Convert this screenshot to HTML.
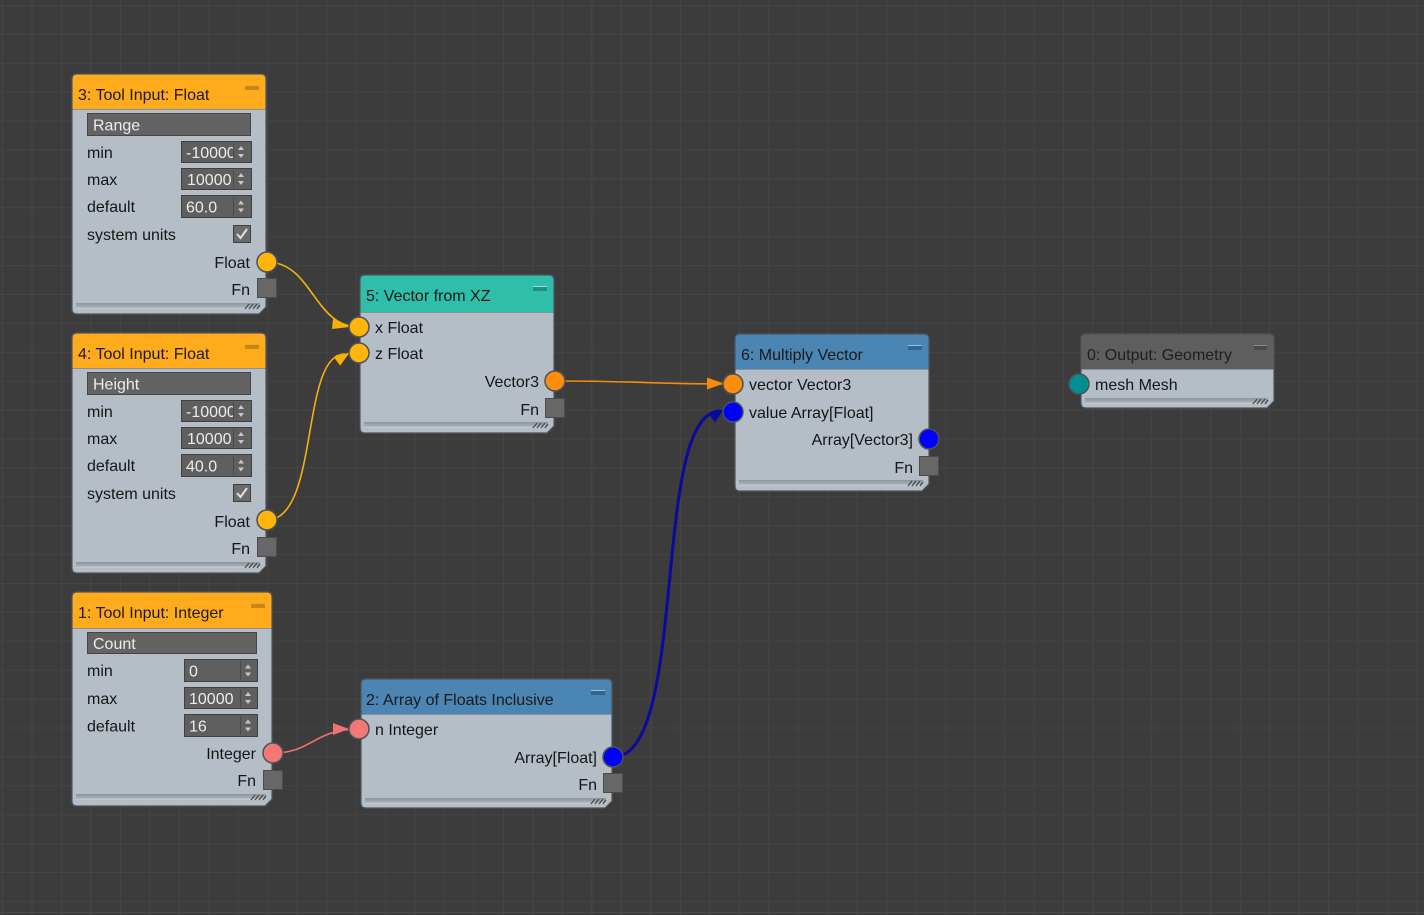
<!DOCTYPE html>
<html><head><meta charset="utf-8">
<style>
html,body{margin:0;padding:0;background:#3c3c3c;}
svg{display:block;}
text{font-family:"Liberation Sans",sans-serif;font-size:16px;fill:#151515;}
.fv{fill:#ececec;}
.t{fill:#1a1a1a;}
</style></head>
<body>
<svg width="1424" height="915" viewBox="0 0 1424 915" xmlns="http://www.w3.org/2000/svg">
<defs>
<pattern id="grid" x="2" y="5" width="29.47" height="28.9" patternUnits="userSpaceOnUse">
<path d="M0.5 0 V28.9 M0 0.5 H29.47" stroke="#454545" stroke-width="1" fill="none"/>
</pattern>
<linearGradient id="bar" x1="0" y1="0" x2="0" y2="1">
<stop offset="0" stop-color="#8c949c"/><stop offset="0.6" stop-color="#a3abb3"/><stop offset="1" stop-color="#c9d0d7"/>
</linearGradient>
</defs>
<rect width="1424" height="915" fill="#3c3c3c"/>
<rect width="1424" height="915" fill="url(#grid)"/>
<line x1="0" y1="912.5" x2="1424" y2="912.5" stroke="#4a4a4a"/>

<!-- connectors -->
<g fill="none">
<path d="M267 262 C312 262 314 327 359 327" stroke="#f5b10a" stroke-width="1.6"/>
<path d="M267 520 C320 520 300 353 345 354" stroke="#f5b10a" stroke-width="1.6"/>
<path d="M555 381 C640 381 650 384 733 384" stroke="#f58a0b" stroke-width="1.6"/>
<path d="M613 757 C690 757 650 412 720 411" stroke="#0a0a9c" stroke-width="3"/>
<path d="M273 753 C312 753 314 729 359 729" stroke="#f07272" stroke-width="1.6"/>
</g>
<polygon points="350,327 333,318.5 332,329" fill="#f5b10a"/>
<polygon points="350,352 340.2,365.6 334.2,357.6" fill="#f5b10a"/>
<polygon points="724,383.5 707,377.5 707,389.5" fill="#f58a0b"/>
<polygon points="724,409 715,422.5 708.5,413.5" fill="#0a0a9c"/>
<polygon points="349,729 333,723 333,735" fill="#f07272"/>

<!-- NODE 3 -->
<g>
<path d="M77,74 H261 Q266,74 266,79 V307 L259,314 H77 Q72,314 72,309 V79 Q72,74 77,74 Z" fill="#b5bec7"/>
<path d="M77,74 H261 Q266,74 266,79 V109 H72 V79 Q72,74 77,74 Z" fill="#ffab1c"/>
<line x1="72" y1="109.5" x2="266" y2="109.5" stroke="#8a9299"/>
<rect x="76" y="303" width="184" height="6" fill="url(#bar)"/>
<g stroke="#4a4a4a" stroke-width="1.3"><line x1="245" y1="309" x2="249" y2="304"/><line x1="249" y1="309" x2="253" y2="304"/><line x1="253" y1="309" x2="257" y2="304"/><line x1="257" y1="309" x2="260" y2="305"/></g>
<path d="M77,74 H261 Q266,74 266,79 V307 L259,314 H77 Q72,314 72,309 V79 Q72,74 77,74 Z" fill="none" stroke="#4e565e" stroke-width="1.2"/>
<rect x="245" y="85" width="14" height="5" fill="#c98718"/><rect x="245" y="85" width="14" height="1" fill="#e8a53a"/>
<text class="t" x="78" y="100">3: Tool Input: Float</text>
<rect x="87.5" y="113.5" width="163" height="22" fill="#636363" stroke="#454545"/>
<text class="fv" x="93" y="130.5">Range</text>
<text x="87" y="158">min</text>
<rect x="181.5" y="141.5" width="70" height="21" fill="#5f5f5f" stroke="#404040"/>
<line x1="233.5" y1="143" x2="233.5" y2="161" stroke="#4a4a4a"/>
<polygon points="238,150 244,150 241,146" fill="#c8c8c8"/><polygon points="238,154 244,154 241,158" fill="#c8c8c8"/>
<svg x="183" y="142" width="50" height="20"><text class="fv" x="3" y="16">-10000</text></svg>
<text x="87" y="185">max</text>
<rect x="181.5" y="168.5" width="70" height="21" fill="#5f5f5f" stroke="#404040"/>
<line x1="233.5" y1="170" x2="233.5" y2="188" stroke="#4a4a4a"/>
<polygon points="238,177 244,177 241,173" fill="#c8c8c8"/><polygon points="238,181 244,181 241,185" fill="#c8c8c8"/>
<svg x="183" y="169" width="50" height="20"><text class="fv" x="4" y="16">10000.</text></svg>
<text x="87" y="212">default</text>
<rect x="181.5" y="195.5" width="70" height="22" fill="#5f5f5f" stroke="#404040"/>
<line x1="233.5" y1="197" x2="233.5" y2="216" stroke="#4a4a4a"/>
<polygon points="238,204.5 244,204.5 241,200.5" fill="#c8c8c8"/><polygon points="238,208.5 244,208.5 241,212.5" fill="#c8c8c8"/>
<svg x="183" y="196" width="50" height="21"><text class="fv" x="3" y="16.5">60.0</text></svg>
<text x="87" y="240">system units</text>
<rect x="233.5" y="225.5" width="17" height="17" fill="#6b6b6b" stroke="#3f3f3f"/>
<path d="M237,234 L240.5,238 L247,229" stroke="#e0e0e0" stroke-width="2" fill="none"/>
<text x="250" y="268" text-anchor="end">Float</text>
<circle cx="267" cy="262" r="10" fill="#ffb50c" stroke="#4b5259" stroke-width="1.5"/>
<text x="250" y="295" text-anchor="end">Fn</text>
<rect x="257.5" y="278.5" width="19" height="19" fill="#676767" stroke="#4c4c4c"/>
</g>

<!-- NODE 4 -->
<g>
<path d="M77,333 H261 Q266,333 266,338 V566 L259,573 H77 Q72,573 72,568 V338 Q72,333 77,333 Z" fill="#b5bec7"/>
<path d="M77,333 H261 Q266,333 266,338 V368 H72 V338 Q72,333 77,333 Z" fill="#ffab1c"/>
<line x1="72" y1="368.5" x2="266" y2="368.5" stroke="#8a9299"/>
<rect x="76" y="562" width="184" height="6" fill="url(#bar)"/>
<g stroke="#4a4a4a" stroke-width="1.3"><line x1="245" y1="568" x2="249" y2="563"/><line x1="249" y1="568" x2="253" y2="563"/><line x1="253" y1="568" x2="257" y2="563"/><line x1="257" y1="568" x2="260" y2="564"/></g>
<path d="M77,333 H261 Q266,333 266,338 V566 L259,573 H77 Q72,573 72,568 V338 Q72,333 77,333 Z" fill="none" stroke="#4e565e" stroke-width="1.2"/>
<rect x="245" y="344" width="14" height="5" fill="#c98718"/><rect x="245" y="344" width="14" height="1" fill="#e8a53a"/>
<text class="t" x="78" y="359">4: Tool Input: Float</text>
<rect x="87.5" y="372.5" width="163" height="22" fill="#636363" stroke="#454545"/>
<text class="fv" x="93" y="389.5">Height</text>
<text x="87" y="417">min</text>
<rect x="181.5" y="400.5" width="70" height="21" fill="#5f5f5f" stroke="#404040"/>
<line x1="233.5" y1="402" x2="233.5" y2="420" stroke="#4a4a4a"/>
<polygon points="238,409 244,409 241,405" fill="#c8c8c8"/><polygon points="238,413 244,413 241,417" fill="#c8c8c8"/>
<svg x="183" y="401" width="50" height="20"><text class="fv" x="3" y="16">-10000</text></svg>
<text x="87" y="444">max</text>
<rect x="181.5" y="427.5" width="70" height="21" fill="#5f5f5f" stroke="#404040"/>
<line x1="233.5" y1="429" x2="233.5" y2="447" stroke="#4a4a4a"/>
<polygon points="238,436 244,436 241,432" fill="#c8c8c8"/><polygon points="238,440 244,440 241,444" fill="#c8c8c8"/>
<svg x="183" y="428" width="50" height="20"><text class="fv" x="4" y="16">10000.</text></svg>
<text x="87" y="471">default</text>
<rect x="181.5" y="454.5" width="70" height="22" fill="#5f5f5f" stroke="#404040"/>
<line x1="233.5" y1="456" x2="233.5" y2="475" stroke="#4a4a4a"/>
<polygon points="238,463.5 244,463.5 241,459.5" fill="#c8c8c8"/><polygon points="238,467.5 244,467.5 241,471.5" fill="#c8c8c8"/>
<svg x="183" y="455" width="50" height="21"><text class="fv" x="3" y="16.5">40.0</text></svg>
<text x="87" y="499">system units</text>
<rect x="233.5" y="484.5" width="17" height="17" fill="#6b6b6b" stroke="#3f3f3f"/>
<path d="M237,493 L240.5,497 L247,488" stroke="#e0e0e0" stroke-width="2" fill="none"/>
<text x="250" y="527" text-anchor="end">Float</text>
<circle cx="267" cy="520" r="10" fill="#ffb50c" stroke="#4b5259" stroke-width="1.5"/>
<text x="250" y="554" text-anchor="end">Fn</text>
<rect x="257.5" y="537.5" width="19" height="19" fill="#676767" stroke="#4c4c4c"/>
</g>

<!-- NODE 1 -->
<g>
<path d="M77,592 H267 Q272,592 272,597 V799 L265,806 H77 Q72,806 72,801 V597 Q72,592 77,592 Z" fill="#b5bec7"/>
<path d="M77,592 H267 Q272,592 272,597 V628 H72 V597 Q72,592 77,592 Z" fill="#ffab1c"/>
<line x1="72" y1="628.5" x2="272" y2="628.5" stroke="#8a9299"/>
<rect x="76" y="794" width="190" height="6" fill="url(#bar)"/>
<g stroke="#4a4a4a" stroke-width="1.3"><line x1="251" y1="800" x2="255" y2="795"/><line x1="255" y1="800" x2="259" y2="795"/><line x1="259" y1="800" x2="263" y2="795"/><line x1="263" y1="800" x2="266" y2="796"/></g>
<path d="M77,592 H267 Q272,592 272,597 V799 L265,806 H77 Q72,806 72,801 V597 Q72,592 77,592 Z" fill="none" stroke="#4e565e" stroke-width="1.2"/>
<rect x="251" y="603" width="14" height="5" fill="#c98718"/><rect x="251" y="603" width="14" height="1" fill="#e8a53a"/>
<text class="t" x="78" y="618">1: Tool Input: Integer</text>
<rect x="87.5" y="632.5" width="169" height="21" fill="#636363" stroke="#454545"/>
<text class="fv" x="93" y="649">Count</text>
<text x="87" y="676">min</text>
<rect x="184.5" y="659.5" width="73" height="22" fill="#5f5f5f" stroke="#404040"/>
<line x1="240.5" y1="661" x2="240.5" y2="680" stroke="#4a4a4a"/>
<polygon points="245,668.5 251,668.5 248,664.5" fill="#c8c8c8"/><polygon points="245,672.5 251,672.5 248,676.5" fill="#c8c8c8"/>
<text class="fv" x="189" y="676.5">0</text>
<text x="87" y="704">max</text>
<rect x="184.5" y="687.5" width="73" height="21" fill="#5f5f5f" stroke="#404040"/>
<line x1="240.5" y1="689" x2="240.5" y2="707" stroke="#4a4a4a"/>
<polygon points="245,696 251,696 248,692" fill="#c8c8c8"/><polygon points="245,700 251,700 248,704" fill="#c8c8c8"/>
<svg x="186" y="688" width="54" height="20"><text class="fv" x="3" y="16">10000</text></svg>
<text x="87" y="731.5">default</text>
<rect x="184.5" y="714.5" width="73" height="22" fill="#5f5f5f" stroke="#404040"/>
<line x1="240.5" y1="716" x2="240.5" y2="735" stroke="#4a4a4a"/>
<polygon points="245,723.5 251,723.5 248,719.5" fill="#c8c8c8"/><polygon points="245,727.5 251,727.5 248,731.5" fill="#c8c8c8"/>
<text class="fv" x="189" y="731.5">16</text>
<text x="256" y="759" text-anchor="end">Integer</text>
<circle cx="273" cy="753" r="10" fill="#f47777" stroke="#4b5259" stroke-width="1.5"/>
<text x="256" y="786" text-anchor="end">Fn</text>
<rect x="263.5" y="770.5" width="19" height="19" fill="#676767" stroke="#4c4c4c"/>
</g>

<!-- NODE 5 -->
<g>
<path d="M365,275 H549 Q554,275 554,280 V426 L547,433 H365 Q360,433 360,428 V280 Q360,275 365,275 Z" fill="#b5bec7"/>
<path d="M365,275 H549 Q554,275 554,280 V312 H360 V280 Q360,275 365,275 Z" fill="#2fbea9"/>
<line x1="360" y1="312.5" x2="554" y2="312.5" stroke="#8a9299"/>
<rect x="364" y="422" width="184" height="6" fill="url(#bar)"/>
<g stroke="#4a4a4a" stroke-width="1.3"><line x1="533" y1="428" x2="537" y2="423"/><line x1="537" y1="428" x2="541" y2="423"/><line x1="541" y1="428" x2="545" y2="423"/><line x1="545" y1="428" x2="548" y2="424"/></g>
<path d="M365,275 H549 Q554,275 554,280 V426 L547,433 H365 Q360,433 360,428 V280 Q360,275 365,275 Z" fill="none" stroke="#4e565e" stroke-width="1.2"/>
<rect x="533" y="286" width="14" height="5" fill="#1f8f80"/><rect x="533" y="286" width="14" height="1" fill="#8fe8dc"/>
<text class="t" x="366" y="301">5: Vector from XZ</text>
<text x="375" y="333">x Float</text>
<circle cx="359" cy="327" r="10" fill="#ffb50c" stroke="#4b5259" stroke-width="1.5"/>
<text x="375" y="359">z Float</text>
<circle cx="359" cy="353" r="10" fill="#ffb50c" stroke="#4b5259" stroke-width="1.5"/>
<text x="539" y="387" text-anchor="end">Vector3</text>
<circle cx="555" cy="381" r="10" fill="#ff8c0a" stroke="#4b5259" stroke-width="1.5"/>
<text x="539" y="415" text-anchor="end">Fn</text>
<rect x="545.5" y="398.5" width="19" height="19" fill="#676767" stroke="#4c4c4c"/>
</g>

<!-- NODE 6 -->
<g>
<path d="M740,334 H924 Q929,334 929,339 V484 L922,491 H740 Q735,491 735,486 V339 Q735,334 740,334 Z" fill="#b5bec7"/>
<path d="M740,334 H924 Q929,334 929,339 V369 H735 V339 Q735,334 740,334 Z" fill="#4b85b3"/>
<line x1="735" y1="369.5" x2="929" y2="369.5" stroke="#8a9299"/>
<rect x="739" y="480" width="184" height="6" fill="url(#bar)"/>
<g stroke="#4a4a4a" stroke-width="1.3"><line x1="908" y1="486" x2="912" y2="481"/><line x1="912" y1="486" x2="916" y2="481"/><line x1="916" y1="486" x2="920" y2="481"/><line x1="920" y1="486" x2="923" y2="482"/></g>
<path d="M740,334 H924 Q929,334 929,339 V484 L922,491 H740 Q735,491 735,486 V339 Q735,334 740,334 Z" fill="none" stroke="#4e565e" stroke-width="1.2"/>
<rect x="908" y="345" width="14" height="5" fill="#35648a"/><rect x="908" y="345" width="14" height="1" fill="#8fc4ee"/>
<text class="t" x="741" y="360">6: Multiply Vector</text>
<text x="749" y="390">vector Vector3</text>
<circle cx="733" cy="384" r="10" fill="#ff8c0a" stroke="#4b5259" stroke-width="1.5"/>
<text x="749" y="418">value Array[Float]</text>
<circle cx="733" cy="412" r="10" fill="#0000ff" stroke="#4b5259" stroke-width="1.5"/>
<text x="913" y="445" text-anchor="end">Array[Vector3]</text>
<circle cx="929" cy="439" r="10" fill="#0000ff" stroke="#4b5259" stroke-width="1.5"/>
<text x="913" y="473" text-anchor="end">Fn</text>
<rect x="919.5" y="456.5" width="19" height="19" fill="#676767" stroke="#4c4c4c"/>
</g>

<!-- NODE 0 -->
<g>
<path d="M1086,334 H1269 Q1274,334 1274,339 V401 L1267,408 H1086 Q1081,408 1081,403 V339 Q1081,334 1086,334 Z" fill="#b5bec7"/>
<path d="M1086,334 H1269 Q1274,334 1274,339 V369 H1081 V339 Q1081,334 1086,334 Z" fill="#5e5e5e"/>
<line x1="1081" y1="369.5" x2="1274" y2="369.5" stroke="#8a9299"/>
<rect x="1085" y="398" width="183" height="6" fill="url(#bar)"/>
<g stroke="#4a4a4a" stroke-width="1.3"><line x1="1253" y1="404" x2="1257" y2="399"/><line x1="1257" y1="404" x2="1261" y2="399"/><line x1="1261" y1="404" x2="1265" y2="399"/><line x1="1265" y1="404" x2="1268" y2="400"/></g>
<path d="M1086,334 H1269 Q1274,334 1274,339 V401 L1267,408 H1086 Q1081,408 1081,403 V339 Q1081,334 1086,334 Z" fill="none" stroke="#4e565e" stroke-width="1.2"/>
<rect x="1254" y="345" width="13" height="5" fill="#4a4a4a"/><rect x="1254" y="345" width="13" height="1" fill="#8a8a8a"/>
<text x="1087" y="360" style="fill:#1e1e1e">0: Output: Geometry</text>
<text x="1095" y="390">mesh Mesh</text>
<circle cx="1079" cy="384" r="10" fill="#008f8f" stroke="#4b5259" stroke-width="1.5"/>
</g>

<!-- NODE 2 -->
<g>
<path d="M366,679 H607 Q612,679 612,684 V801 L605,808 H366 Q361,808 361,803 V684 Q361,679 366,679 Z" fill="#b5bec7"/>
<path d="M366,679 H607 Q612,679 612,684 V714 H361 V684 Q361,679 366,679 Z" fill="#4b85b3"/>
<line x1="361" y1="714.5" x2="612" y2="714.5" stroke="#8a9299"/>
<rect x="365" y="798" width="241" height="6" fill="url(#bar)"/>
<g stroke="#4a4a4a" stroke-width="1.3"><line x1="591" y1="804" x2="595" y2="799"/><line x1="595" y1="804" x2="599" y2="799"/><line x1="599" y1="804" x2="603" y2="799"/><line x1="603" y1="804" x2="606" y2="800"/></g>
<path d="M366,679 H607 Q612,679 612,684 V801 L605,808 H366 Q361,808 361,803 V684 Q361,679 366,679 Z" fill="none" stroke="#4e565e" stroke-width="1.2"/>
<rect x="591" y="690" width="14" height="5" fill="#35648a"/><rect x="591" y="690" width="14" height="1" fill="#8fc4ee"/>
<text class="t" x="366" y="705">2: Array of Floats Inclusive</text>
<text x="375" y="735">n Integer</text>
<circle cx="359" cy="729" r="10" fill="#f47777" stroke="#4b5259" stroke-width="1.5"/>
<text x="597" y="763" text-anchor="end">Array[Float]</text>
<circle cx="613" cy="757" r="10" fill="#0000ff" stroke="#4b5259" stroke-width="1.5"/>
<text x="597" y="790" text-anchor="end">Fn</text>
<rect x="603.5" y="773.5" width="19" height="19" fill="#676767" stroke="#4c4c4c"/>
</g>
</svg>
</body></html>
